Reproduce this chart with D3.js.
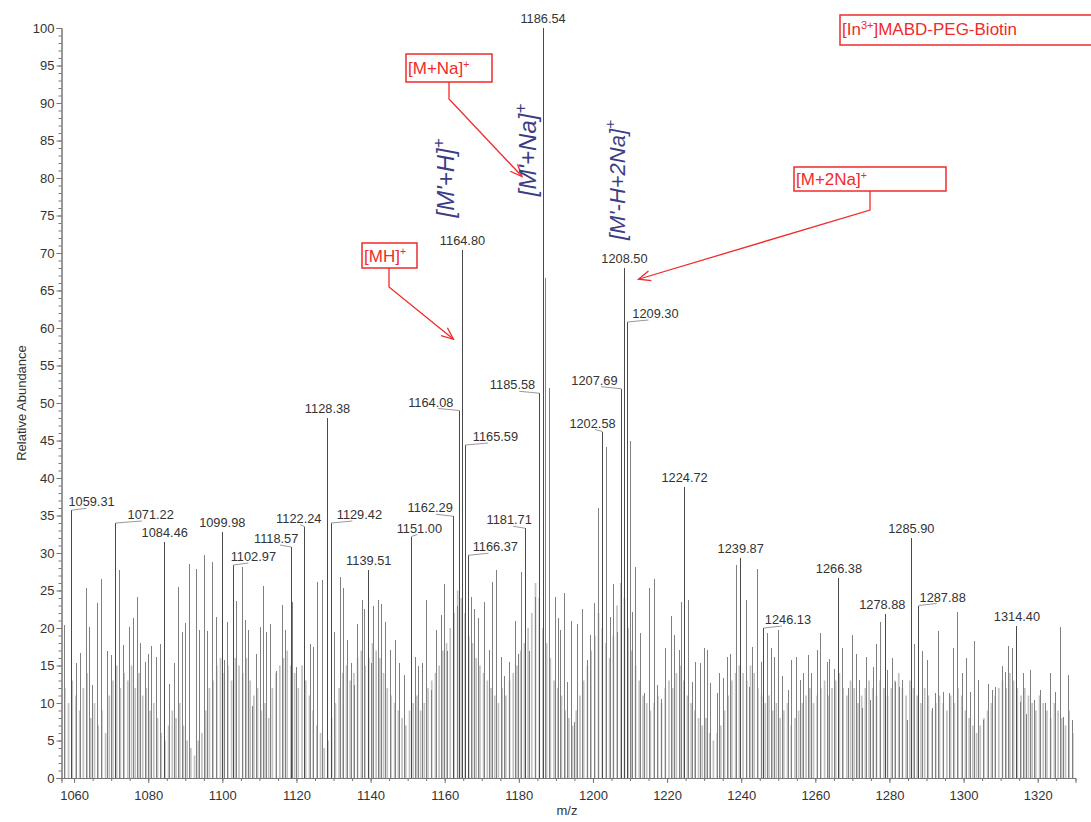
<!DOCTYPE html>
<html><head><meta charset="utf-8">
<script src="https://cdn.jsdelivr.net/npm/d3@7"></script>
<style>
body{margin:0;background:#fff}
svg{display:block}
text{font-family:"Liberation Sans",Arial,sans-serif}
</style>
</head><body>
<svg id="c" width="1091" height="822"></svg>
<script>
// ---------------- DATA ----------------
const yTicks = [0,5,10,15,20,25,30,35,40,45,50,55,60,65,70,75,80,85,90,95,100];
const xTicks = [1060,1080,1100,1120,1140,1160,1180,1200,1220,1240,1260,1280,1300,1320];

// labelled peaks
const labelMz  = [1059.31,1071.22,1084.46,1099.98,1102.97,1118.57,1122.24,1128.38,1129.42,1139.51,1151.00,1162.29,1164.08,1164.80,1165.59,1166.37,1181.71,1185.58,1186.54,1202.58,1207.69,1208.50,1209.30,1224.72,1239.87,1246.13,1266.38,1278.88,1285.90,1287.88,1314.40];
const labelVal = [35.7,34.0,31.5,32.8,28.4,30.8,33.5,48.0,34.0,27.7,32.2,34.9,49.0,70.4,44.4,29.7,33.3,51.3,100,46.2,51.9,68.0,60.8,38.8,29.3,20.0,26.7,21.9,32.0,23.0,20.3];
const labelText = ["1059.31","1071.22","1084.46","1099.98","1102.97","1118.57","1122.24","1128.38","1129.42","1139.51","1151.00","1162.29","1164.08","1164.80","1165.59","1166.37","1181.71","1185.58","1186.54","1202.58","1207.69","1208.50","1209.30","1224.72","1239.87","1246.13","1266.38","1278.88","1285.90","1287.88","1314.40"];

// other resolved peaks
const peakMz = [1057.4,1060.6,1061.7,1063.3,1064.2,1064.9,1066.2,1067.5,1069.1,1070.0,1072.3,1073.4,1075.0,1075.9,1077.2,1077.9,1079.2,1080.2,1081.0,1082.2,1083.3,1085.8,1087.1,1088.1,1089.2,1090.1,1091.2,1093.0,1093.9,1095.2,1096.1,1097.3,1098.4,1100.6,1101.5,1103.8,1105.4,1106.2,1107.1,1108.1,1109.2,1110.2,1111.1,1112.0,1112.9,1114.7,1116.2,1117.1,1119.0,1120.1,1123.8,1124.7,1125.6,1127.1,1130.3,1131.9,1132.8,1133.7,1134.8,1135.7,1136.6,1137.9,1138.4,1140.2,1140.9,1142.0,1143.0,1144.0,1145.4,1146.6,1147.9,1149.2,1152.1,1153.0,1153.9,1155.0,1156.4,1157.7,1159.1,1160.0,1160.8,1163.4,1167.2,1168.1,1169.0,1170.8,1172.0,1172.8,1173.9,1175.3,1176.2,1177.4,1179.2,1179.8,1180.7,1183.0,1184.6,1187.1,1188.3,1189.8,1190.6,1191.2,1192.3,1193.2,1194.1,1195.0,1195.9,1197.2,1198.4,1199.3,1200.5,1201.4,1203.7,1204.7,1205.6,1206.5,1210.0,1210.7,1211.6,1212.8,1213.8,1215.3,1216.7,1217.5,1218.4,1219.7,1221.2,1222.1,1223.3,1223.9,1225.7,1226.9,1227.8,1229.0,1230.2,1231.0,1231.8,1233.5,1234.1,1235.3,1236.3,1237.2,1238.6,1241.3,1242.2,1243.1,1244.4,1245.5,1247.1,1248.2,1249.1,1250.1,1251.2,1252.7,1253.6,1254.8,1255.9,1256.9,1258.2,1259.1,1260.5,1261.4,1263.2,1263.8,1265.2,1267.2,1269.0,1269.9,1271.0,1271.9,1272.8,1273.7,1274.8,1275.7,1276.6,1277.7,1279.6,1280.7,1281.6,1282.7,1283.6,1284.8,1286.8,1289.0,1290.2,1291.5,1292.4,1293.3,1294.6,1296.2,1297.3,1298.3,1299.6,1300.7,1301.8,1303.0,1304.1,1305.4,1306.8,1307.7,1308.6,1310.4,1311.3,1312.2,1313.1,1315.3,1316.1,1317.1,1318.0,1319.2,1320.7,1322.1,1323.4,1324.8,1326.1,1327.0,1328.2,1329.5];
const peakVal = [20.4,15.3,16.7,25.3,20.1,12.4,23.3,26.6,17.0,16.4,27.7,17.7,20.2,21.4,24.2,18.0,15.5,16.6,17.6,16.2,17.9,12.6,15.3,25.5,19.5,20.7,28.6,27.9,19.7,29.7,19.6,28.8,21.5,15.7,20.8,23.6,28.1,21.1,19.7,9.6,16.6,20.1,25.6,19.5,20.6,14.3,23.1,19.7,23.5,14.8,17.9,17.5,26.2,26.4,19.5,26.8,25.3,18.4,15.3,12.4,20.6,23.7,22.5,15.3,22.9,23.7,23.2,20.8,17.1,18.4,15.3,13.7,16.2,14.9,15.3,23.8,11.8,19.7,21.7,25.9,16.9,22.9,24.1,22.6,21.3,23.5,17.1,26.2,27.7,16.2,13.6,15.5,21.0,16.6,27.5,17.0,24.1,66.7,52.0,24.2,21.3,19.7,24.7,12.8,21.0,7.5,20.5,22.5,15.7,19.1,23.3,36.0,44.2,21.5,25.9,19.5,45.0,22.2,28.2,19.3,11.3,25.4,26.6,12.4,10.6,17.3,21.6,19.1,17.1,23.5,23.7,12.8,15.5,15.3,17.3,17.1,12.7,11.3,14.0,13.3,16.2,16.6,28.4,23.7,12.2,17.5,27.9,15.5,19.3,17.3,16.2,19.7,13.6,11.8,15.7,16.2,13.1,14.0,16.4,14.0,17.1,19.4,15.5,15.9,14.6,17.3,12.0,19.1,16.6,13.1,9.3,16.2,10.4,14.8,17.9,20.8,14.4,16.0,12.8,12.2,13.1,7.7,17.9,16.9,15.7,9.3,11.3,19.6,11.5,11.3,17.3,22.1,14.0,16.0,11.5,18.3,13.1,7.7,12.6,11.7,12.2,14.9,14.1,17.6,17.3,10.1,14.0,8.6,14.4,10.4,11.8,10.0,14.0,11.5,20.2,8.1,13.7,7.7];

// unresolved background peaks (light grey)
const minorMz = [1057.5,1058.5,1059.5,1060.5,1061.5,1062.5,1063.5,1064.5,1065.5,1066.5,1067.5,1068.5,1069.5,1070.5,1071.5,1072.5,1073.5,1074.5,1075.5,1076.5,1077.5,1078.5,1079.5,1080.5,1081.5,1082.5,1083.5,1084.5,1085.5,1086.5,1087.5,1088.5,1089.5,1090.5,1091.5,1092.5,1093.5,1094.5,1095.5,1096.5,1097.5,1098.5,1099.5,1100.5,1101.5,1102.5,1103.5,1104.5,1105.5,1106.5,1107.5,1108.5,1109.5,1110.5,1111.5,1112.5,1113.5,1114.5,1115.5,1116.5,1117.5,1118.5,1119.5,1120.5,1121.5,1122.5,1123.5,1124.5,1125.5,1126.5,1127.5,1128.5,1129.5,1130.5,1131.5,1132.5,1133.5,1134.5,1135.5,1136.5,1137.5,1138.5,1139.5,1140.5,1141.5,1142.5,1143.5,1144.5,1145.5,1146.5,1147.5,1148.5,1149.5,1150.5,1151.5,1152.5,1153.5,1154.5,1155.5,1156.5,1157.5,1158.5,1159.5,1160.5,1161.5,1162.5,1163.5,1164.5,1165.5,1166.5,1167.5,1168.5,1169.5,1170.5,1171.5,1172.5,1173.5,1174.5,1175.5,1176.5,1177.5,1178.5,1179.5,1180.5,1181.5,1182.5,1183.5,1184.5,1185.5,1186.5,1187.5,1188.5,1189.5,1190.5,1191.5,1192.5,1193.5,1194.5,1195.5,1196.5,1197.5,1198.5,1199.5,1200.5,1201.5,1202.5,1203.5,1204.5,1205.5,1206.5,1207.5,1208.5,1209.5,1210.5,1211.5,1212.5,1213.5,1214.5,1215.5,1216.5,1217.5,1218.5,1219.5,1220.5,1221.5,1222.5,1223.5,1224.5,1225.5,1226.5,1227.5,1228.5,1229.5,1230.5,1231.5,1232.5,1233.5,1234.5,1235.5,1236.5,1237.5,1238.5,1239.5,1240.5,1241.5,1242.5,1243.5,1244.5,1245.5,1246.5,1247.5,1248.5,1249.5,1250.5,1251.5,1252.5,1253.5,1254.5,1255.5,1256.5,1257.5,1258.5,1259.5,1260.5,1261.5,1262.5,1263.5,1264.5,1265.5,1266.5,1267.5,1268.5,1269.5,1270.5,1271.5,1272.5,1273.5,1274.5,1275.5,1276.5,1277.5,1278.5,1279.5,1280.5,1281.5,1282.5,1283.5,1284.5,1285.5,1286.5,1287.5,1288.5,1289.5,1290.5,1291.5,1292.5,1293.5,1294.5,1295.5,1296.5,1297.5,1298.5,1299.5,1300.5,1301.5,1302.5,1303.5,1304.5,1305.5,1306.5,1307.5,1308.5,1309.5,1310.5,1311.5,1312.5,1313.5,1314.5,1315.5,1316.5,1317.5,1318.5,1319.5,1320.5,1321.5,1322.5,1323.5,1324.5,1325.5,1326.5,1327.5,1328.5,1329.5];
const minorVal = [12,10,13,11,9,12,14,8,10,7, 9,6,11,13,15,12,14,13,15,12, 14,11,12,9,10,8,6,5,7,9, 8,10,7,5,4,3,5,6,9,12, 13,15,16,14,15,13,16,15,14,16, 13,11,12,9,10,8,12,14,15,16, 17,15,14,12,15,13,11,9,7,6, 4,5,8,10,12,14,15,13,14,16, 17,15,16,18,17,16,14,12,11,10, 9,8,7,9,10,11,9,10,12,13, 14,15,17,18,20,22,25,24,22,19, 18,16,15,14,13,12,11,10,12,11, 13,14,15,17,18,20,22,26,24,20, 18,16,13,12,11,9,8,7,9,11, 13,15,17,19,22,20,18,16,19,23, 26,24,20,17,15,13,11,10,9,10, 11,10,12,13,12,14,15,13,11,10, 9,8,7,8,6,5,6,7,9,11, 13,14,15,14,13,15,14,12,11,10, 11,9,10,8,9,10,7,8,9,10, 11,12,10,11,12,13,11,12,13,14, 12,11,13,12,10,11,12,13,12,11, 13,12,11,12,13,14,12,11,13,12, 11,10,12,11,9,10,11,10,9,11, 10,12,11,9,8,7,6,7,8,9, 10,11,12,13,12,14,13,12,11,12, 11,10,9,11,10,9,8,10,9,8, 7,9,6];

// layout only: horizontal offset (px) of each peak label from its peak
const labelDx = [20,35,0,0,20,-15,-6,0,28,0,8,-23,-29,0,30,27,-16,-27,0,-10,-27,0,28,0,0,24,0,-3,0,24,0];

// ---------------- DRAW ----------------
const svg = d3.select("#c");
const x = d3.scaleLinear().domain([1056.6, 1330.2]).range([61.5, 1075.5]);
const y = d3.scaleLinear().domain([0, 100]).range([778, 28]);
const axisCol = "#777", textCol = "#333";

// minor background peaks (dense light grey)
svg.append("g").selectAll("line").data(minorMz.map((m,i)=>[m,minorVal[i]])).join("line")
  .attr("x1",d=>x(d[0])).attr("x2",d=>x(d[0])).attr("y1",y(0)).attr("y2",d=>y(d[1]))
  .attr("stroke","#c2c2c2").attr("stroke-width",1.7);
// resolved peaks
svg.append("g").selectAll("line").data(peakMz.map((m,i)=>[m,peakVal[i]])).join("line")
  .attr("x1",d=>x(d[0])).attr("x2",d=>x(d[0])).attr("y1",y(0)).attr("y2",d=>y(d[1]))
  .attr("stroke","#808080").attr("stroke-width",1).attr("shape-rendering","crispEdges");
// labelled peaks
const lab = labelMz.map((m,i)=>({m, v:labelVal[i], t:labelText[i], dx:labelDx[i]}));
svg.append("g").selectAll("line").data(lab).join("line")
  .attr("x1",d=>x(d.m)).attr("x2",d=>x(d.m)).attr("y1",y(0)).attr("y2",d=>y(d.v))
  .attr("stroke","#4a4a4a").attr("stroke-width",1).attr("shape-rendering","crispEdges");
// leaders
svg.append("g").selectAll("path").data(lab.filter(d=>Math.abs(d.dx)>5)).join("path")
  .attr("d",d=>{const px=x(d.m), py=y(d.v); return `M${px},${py}L${px+d.dx*0.75},${py-2}`;})
  .attr("fill","none").attr("stroke","#999").attr("stroke-width",1);
// peak labels
svg.append("g").selectAll("text").data(lab).join("text")
  .attr("x",d=>x(d.m)+d.dx).attr("y",d=>y(d.v)-(Math.abs(d.dx)>5?4:5))
  .attr("text-anchor","middle").attr("font-size",12.8).attr("fill",textCol).text(d=>d.t);

// axes
const gy = svg.append("g").attr("transform",`translate(${x.range()[0]},0)`);
gy.call(d3.axisLeft(y).tickValues(d3.range(0,101,1)).tickSize(3).tickFormat(""));
gy.call(g=>g.append("g").call(d3.axisLeft(y).tickValues(yTicks).tickSize(5).tickPadding(2)));
gy.selectAll("path,line").attr("stroke",axisCol);
gy.selectAll("text").attr("font-size",13).attr("fill",textCol).attr("font-family","Liberation Sans, Arial, sans-serif");

const gx = svg.append("g").attr("transform",`translate(0,${y(0)})`);
gx.call(d3.axisBottom(x).tickValues(d3.range(1060,1330,5)).tickSize(3).tickFormat(""));
gx.call(g=>g.append("g").call(d3.axisBottom(x).tickValues(xTicks).tickSize(5).tickPadding(8).tickFormat(d3.format("d"))));
gx.selectAll("path,line").attr("stroke",axisCol);
gx.selectAll("text").attr("font-size",13).attr("fill",textCol).attr("font-family","Liberation Sans, Arial, sans-serif");

svg.append("text").attr("x",567).attr("y",815).attr("text-anchor","middle")
  .attr("font-size",13).attr("fill",textCol).text("m/z");
svg.append("text").attr("transform","translate(26,403) rotate(-90)").attr("text-anchor","middle")
  .attr("font-size",13).attr("fill",textCol).text("Relative Abundance");

// ---------------- annotations ----------------
const red = "#f22a2a";
function boxLabel(x0,y0,w,h,base,sup,size){
  svg.append("rect").attr("x",x0).attr("y",y0).attr("width",w).attr("height",h)
    .attr("fill","#fff").attr("stroke",red).attr("stroke-width",1.5);
  const t = svg.append("text").attr("x",x0+2).attr("y",y0+h/2+size*0.36)
    .attr("font-size",size).attr("fill",red);
  base.forEach((b,i)=>{
    t.append("tspan").text(b);
    if(sup[i]) t.append("tspan").attr("font-size",size*0.62).attr("dy",-size*0.38).text(sup[i]);
  });
}
function arrow(pts){
  svg.append("path").attr("d","M"+pts.map(p=>p.join(",")).join("L"))
    .attr("fill","none").attr("stroke",red).attr("stroke-width",1.3);
  const [a,b] = pts.slice(-2);
  const ang = Math.atan2(b[1]-a[1], b[0]-a[0]);
  const L = 13, s = 0.4;
  const p1=[b[0]-L*Math.cos(ang-s), b[1]-L*Math.sin(ang-s)];
  const p2=[b[0]-L*Math.cos(ang+s), b[1]-L*Math.sin(ang+s)];
  svg.append("path").attr("d",`M${p1}L${b}L${p2}`).attr("fill","none").attr("stroke",red).attr("stroke-width",1.3);
}
// title box
svg.append("rect").attr("x",840).attr("y",15).attr("width",252).attr("height",30)
  .attr("fill","#fff").attr("stroke",red).attr("stroke-width",1.5);
{
  const t = svg.append("text").attr("x",842).attr("y",35).attr("font-size",17).attr("fill",red);
  t.append("tspan").text("[In");
  t.append("tspan").attr("font-size",11).attr("dy",-6).text("3+");
  t.append("tspan").attr("dy",6).text("]MABD-PEG-Biotin");
}
boxLabel(406,54,86,28,["[M+Na]"],["+"],17);
arrow([[449,82],[449,99],[x(1186.54)-21,y(80.2)]]);
boxLabel(362,243,55,25,["[MH]"],["+"],17);
arrow([[389,268],[389,287],[x(1164.80)-9,y(58.5)]]);
boxLabel(794,167,152,24,["[M+2Na]"],["+"],17);
arrow([[870,191],[870,210],[x(1208.50)+14,y(66.5)]]);

// handwritten notes
const ink = "#3d3d86";
function hand(cx,cy,base,sup,size){
  const t = svg.append("text").attr("transform",`translate(${cx},${cy}) rotate(-90)`)
    .attr("text-anchor","middle").attr("dy","0.35em").attr("font-size",size)
    .attr("font-family","DejaVu Serif, serif").attr("font-style","italic").attr("fill",ink);
  t.append("tspan").text(base);
  t.append("tspan").attr("font-size",size*0.7).attr("dy",-size*0.45).text(sup);
}
hand(446,178,"[M'+H]","+",24);
hand(528,150,"[M'+Na]","+",24);
hand(617,180,"[M'-H+2Na]","+",22);
</script>
</body></html>
